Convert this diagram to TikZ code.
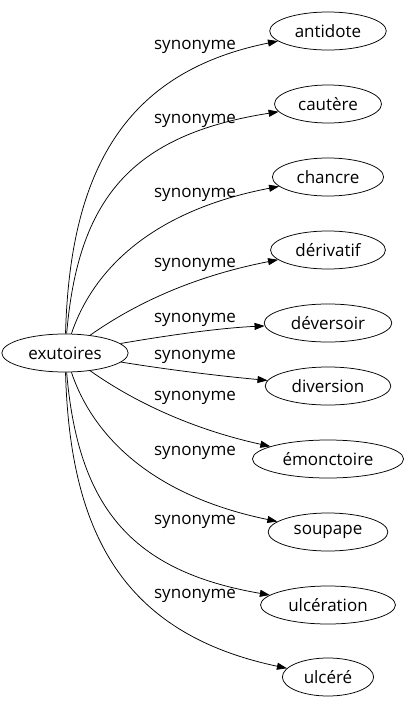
\documentclass[tikz,border=0pt]{standalone}
\usepackage{fontspec}
\setmainfont{Open Sans}
\usetikzlibrary{arrows.meta,shapes.geometric}
\tikzstyle{word}=[ellipse, draw, line width=0.75pt, font=\fontsize{17}{20}\selectfont, minimum height=38pt, inner xsep=8pt]
\tikzstyle{rel}=[font=\fontsize{17}{20}\selectfont, inner sep=0pt]
\tikzstyle{arrow}=[draw=black, line width=0.75pt, >={Triangle[length=10pt, width=7pt]}]

\begin{document}
\begin{tikzpicture}[x=1pt, y=-1pt]
		   \useasboundingbox (0, 0) rectangle (406, 707);
		   \begin{scope}
			   \node (0) at (65, 353)[word] {exutoires};
			   \node (1) at (328, 31)[word] {antidote};
			   \node (2) at (328, 104)[word] {cautère};
			   \node (3) at (328, 177)[word] {chancre};
			   \node (4) at (328, 250)[word] {dérivatif};
			   \node (5) at (328, 323)[word] {déversoir};
			   \node (6) at (328, 386)[word] {diversion};
			   \node (7) at (328, 459)[word] {émonctoire};
			   \node (8) at (328, 532)[word] {soupape};
			   \node (9) at (328, 605)[word] {ulcération};
			   \node (10) at (328, 677)[word] {ulcéré};
		   \end{scope}
		   \begin{scope}
			   \node (l1) at (195, 47)[rel] {synonyme};
			   \node (l2) at (195, 121)[rel] {synonyme};
			   \node (l3) at (195, 195)[rel] {synonyme};
			   \node (l4) at (195, 265)[rel] {synonyme};
			   \node (l5) at (195, 320)[rel] {synonyme};
			   \node (l6) at (195, 357)[rel] {synonyme};
			   \node (l7) at (195, 398)[rel] {synonyme};
			   \node (l8) at (195, 453)[rel] {synonyme};
			   \node (l9) at (195, 522)[rel] {synonyme};
			   \node (l10) at (195, 596)[rel] {synonyme};
		   \end{scope}
		   \begin{scope}
			   \draw [arrow, ->] (0) .. controls (70, 170) and (125, 72) .. (1);
			   \draw [arrow, ->] (0) .. controls (78, 200) and (130, 135) .. (2);
			   \draw [arrow, ->] (0) .. controls (86, 290) and (130, 215) .. (3);
			   \draw [arrow, ->] (0) .. controls (140, 300) and (200, 275) .. (4);
			   \draw [arrow, ->] (0) .. controls (170, 335) and (220, 328) .. (5);
			   \draw [arrow, ->] (0) .. controls (170, 370) and (220, 376) .. (6);
			   \draw [arrow, ->] (0) .. controls (140, 406) and (200, 431) .. (7);
			   \draw [arrow, ->] (0) .. controls (86, 416) and (130, 491) .. (8);
			   \draw [arrow, ->] (0) .. controls (78, 506) and (130, 571) .. (9);
			   \draw [arrow, ->] (0) .. controls (70, 536) and (125, 634) .. (10);
		   \end{scope}
	   \end{tikzpicture}
\end{document}
